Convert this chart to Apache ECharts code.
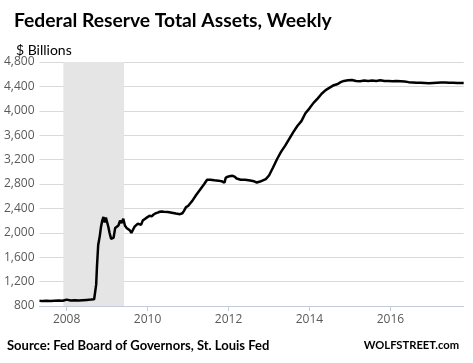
<!DOCTYPE html>
<html>
<head>
<meta charset="utf-8">
<script src="https://cdn.jsdelivr.net/npm/echarts@6/dist/echarts.min.js"></script>
<style>
html,body{margin:0;padding:0;background:#fff;}
#c{width:473px;height:363px;}
</style>
</head>
<body>
<div id="c"></div>
<script>
// Decimal-year dates of readings
var dates = [2007.33,2007.40,2007.50,2007.60,2007.70,2007.80,2007.90,2007.95,2008.00,2008.02,2008.10,2008.20,2008.30,2008.40,2008.50,2008.60,2008.68,2008.71,2008.73,2008.75,2008.78,2008.82,2008.85,2008.88,2008.91,2008.94,2008.97,2009.00,2009.03,2009.06,2009.10,2009.13,2009.16,2009.20,2009.24,2009.28,2009.32,2009.36,2009.40,2009.44,2009.48,2009.52,2009.56,2009.60,2009.64,2009.68,2009.72,2009.76,2009.80,2009.84,2009.88,2009.92,2009.96,2010.00,2010.05,2010.10,2010.15,2010.20,2010.25,2010.30,2010.35,2010.40,2010.50,2010.60,2010.70,2010.80,2010.86,2010.90,2010.95,2011.00,2011.05,2011.10,2011.20,2011.30,2011.40,2011.47,2011.55,2011.65,2011.75,2011.85,2011.90,2011.93,2011.98,2012.05,2012.10,2012.15,2012.20,2012.30,2012.40,2012.50,2012.60,2012.70,2012.78,2012.85,2012.92,2013.00,2013.10,2013.20,2013.30,2013.40,2013.50,2013.60,2013.70,2013.80,2013.90,2014.00,2014.10,2014.20,2014.30,2014.40,2014.50,2014.60,2014.70,2014.77,2014.85,2014.95,2015.05,2015.15,2015.25,2015.35,2015.45,2015.55,2015.65,2015.75,2015.85,2015.95,2016.05,2016.15,2016.25,2016.35,2016.45,2016.55,2016.65,2016.75,2016.85,2016.95,2017.05,2017.15,2017.25,2017.35,2017.45,2017.55,2017.65,2017.75,2017.81];
// Total assets, $ billions
var assets = [885,880,885,880,885,890,885,895,905,890,890,895,890,895,900,905,910,930,1150,1450,1800,1950,2100,2200,2260,2170,2250,2230,2100,2000,1900,1870,1920,2080,2100,2120,2200,2160,2230,2120,2080,2060,2040,2000,2050,2100,2080,2150,2160,2130,2200,2180,2240,2230,2280,2270,2300,2320,2330,2345,2350,2345,2340,2330,2315,2305,2320,2360,2420,2440,2480,2520,2620,2710,2800,2870,2870,2860,2855,2840,2820,2900,2920,2930,2935,2920,2890,2870,2870,2860,2850,2825,2840,2860,2880,2940,3070,3210,3330,3430,3540,3650,3750,3830,3960,4040,4130,4200,4280,4340,4380,4420,4440,4470,4490,4500,4505,4490,4485,4495,4490,4495,4490,4500,4490,4490,4485,4490,4485,4480,4470,4465,4460,4460,4455,4450,4455,4460,4465,4465,4460,4460,4455,4455,4455];
var yearTicks = [2008,2010,2012,2014,2016];
var recession = [2007.92, 2009.42];
var yMin = 800, yMax = 4800, yStep = 400;

var seriesData = dates.map(function(d,i){return [d, assets[i]];});
var chart = echarts.init(document.getElementById('c'));
var font = '"Open Sans", "Noto Sans", sans-serif';
var hfont = 'Lato, "Open Sans", sans-serif';
chart.setOption({
  animation:false,
  backgroundColor:'#fff',
  title:[
    {text:'Federal Reserve Total Assets, Weekly', left:9, top:6, textStyle:{fontFamily:hfont,fontWeight:'bold',fontSize:19.3,color:'#000'}},
    {text:'$ Billions', left:11, top:38, textStyle:{fontFamily:hfont,fontWeight:'normal',fontSize:14,color:'#000'}},
    {text:'Source: Fed Board of Governors, St. Louis Fed', left:2, top:334, textStyle:{fontFamily:hfont,fontWeight:'bold',fontSize:13,color:'#000'}},
    {text:'WOLFSTREET.com', right:9, top:335, textStyle:{fontFamily:hfont,fontWeight:'bold',fontSize:11.2,color:'#000'}}
  ],
  grid:{left:39.5, right:9.3, top:62, bottom:57, containLabel:false},
  xAxis:{
    type:'value', min:2007.33, max:2017.81,
    axisLine:{show:true, lineStyle:{color:'#c3cddb', width:1}},
    axisTick:{show:true, customValues:yearTicks, length:5, lineStyle:{color:'#c3cddb'}},
    axisLabel:{customValues:yearTicks, formatter:function(v){return String(Math.round(v));}, color:'#595959', fontFamily:font, fontSize:12, margin:8},
    splitLine:{show:false}
  },
  yAxis:{
    type:'value', min:yMin, max:yMax, interval:yStep,
    axisLine:{show:false}, axisTick:{show:false},
    axisLabel:{formatter:function(v){return v.toLocaleString('en-US');}, color:'#595959', fontFamily:font, fontSize:12, margin:5},
    splitLine:{show:true, lineStyle:{color:'#d9d9d9', width:1}}
  },
  series:[{
    type:'line', data:seriesData, showSymbol:false, symbol:'none',
    lineStyle:{color:'#000', width:2.5}, z:3,
    markArea:{silent:true, itemStyle:{color:'#e5e5e5'}, data:[[{xAxis:recession[0]},{xAxis:recession[1]}]]}
  }]
});
</script>
</body>
</html>
